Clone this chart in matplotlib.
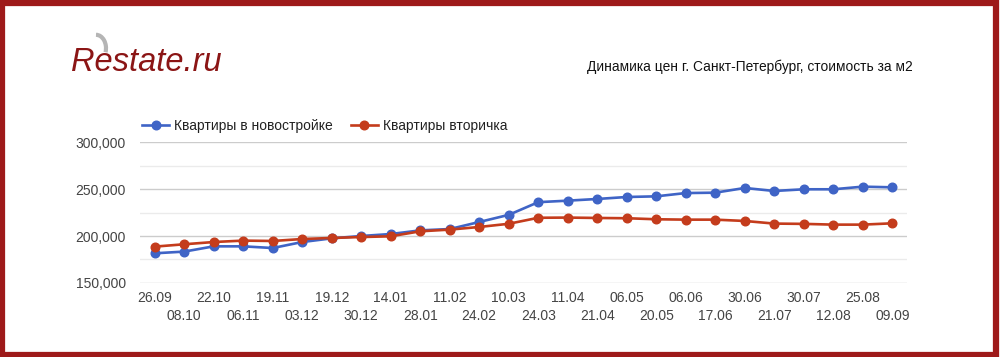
import matplotlib
matplotlib.use('Agg')
import matplotlib.pyplot as plt
from matplotlib.patches import Rectangle, Arc
from matplotlib.ticker import MultipleLocator, FuncFormatter

dates = ['26.09', '08.10', '22.10', '06.11', '19.11', '03.12', '19.12', '30.12',
         '14.01', '28.01', '11.02', '24.02', '10.03', '24.03', '11.04', '21.04',
         '06.05', '20.05', '06.06', '17.06', '30.06', '21.07', '30.07', '12.08',
         '25.08', '09.09']
novostroyki = [181600, 183400, 189000, 189000, 187200, 193600, 197500, 200000,
               202100, 206000, 207400, 214900, 222500, 236000, 237600, 239400,
               241500, 242200, 245700, 246100, 251100, 247900, 249700, 249700,
               252500, 251800]
vtorichka = [188700, 191200, 193600, 195100, 194700, 196800, 197900, 198900,
             199700, 205000, 206800, 209600, 213000, 219400, 219600, 219200,
             218900, 217800, 217400, 217400, 216000, 213200, 212900, 212100,
             212100, 213500]

BLUE = '#3f64c6'
RED = '#c43c1c'
BORDER = '#9e1a1a'
SANS = ['Liberation Sans', 'DejaVu Sans']

fig = plt.figure(figsize=(10, 3.57), dpi=100)
fig.patch.set_facecolor('white')

ax = fig.add_axes([0.140, 0.2073, 0.767, 0.3949])
x = list(range(len(dates)))
ax.plot(x, novostroyki, color=BLUE, lw=1.9, marker='o', ms=6.2,
        label='Квартиры в новостройке', zorder=3)
ax.plot(x, vtorichka, color=RED, lw=1.9, marker='o', ms=6.2,
        label='Квартиры вторичка', zorder=3)

ax.set_xlim(-0.5, len(dates) - 0.5)
ax.set_ylim(150000, 300000)
ax.yaxis.set_major_locator(MultipleLocator(50000))
ax.yaxis.set_minor_locator(MultipleLocator(25000))
ax.yaxis.set_major_formatter(FuncFormatter(lambda v, p: f'{int(v):,}'))
ax.grid(which='major', axis='y', color='#cccccc', lw=1.0)
ax.grid(which='minor', axis='y', color='#ebebeb', lw=1.0)
ax.set_axisbelow(True)
for s in ax.spines.values():
    s.set_visible(False)

# two rows of date labels: even ones on top, odd ones below
ax.set_xticks(x[0::2], dates[0::2])
ax.set_xticks(x[1::2], dates[1::2], minor=True)
ax.tick_params(axis='both', which='both', length=0, colors='#444444', labelsize=10)
ax.tick_params(axis='y', pad=10)
ax.tick_params(axis='x', which='major', pad=6)
ax.tick_params(axis='x', which='minor', pad=19)
for lab in (ax.get_xticklabels() + ax.get_xticklabels(minor=True)
            + ax.get_yticklabels()):
    lab.set_family(SANS)

leg = ax.legend(loc='lower left', bbox_to_anchor=(-0.004, 1.025), ncol=2,
                frameon=False, handlelength=1.9, handletextpad=0.4,
                columnspacing=1.3, borderaxespad=0, prop={'family': SANS, 'size': 10})
for t in leg.get_texts():
    t.set_color('#222222')

# title and logo
fig.text(0.587, 0.812, 'Динамика цен г. Санкт-Петербург, стоимость за м2',
         fontsize=9.9, family=SANS, color='#111111', va='center', ha='left')
fig.text(0.071, 0.800, 'Restate.ru', fontsize=23.5, family=SANS, style='italic',
         color='#8b1515', va='baseline', ha='left')
fig.add_artist(Arc((0.096, 0.865), 0.020, 0.075, theta1=-50, theta2=90,
                   transform=fig.transFigure, color='#b5b5b5', lw=3))

# frame
fig.add_artist(Rectangle((0.002, 0.007), 0.994, 0.985, transform=fig.transFigure,
                         fill=False, edgecolor=BORDER, lw=4.5))

fig.savefig('out.png', dpi=100)
